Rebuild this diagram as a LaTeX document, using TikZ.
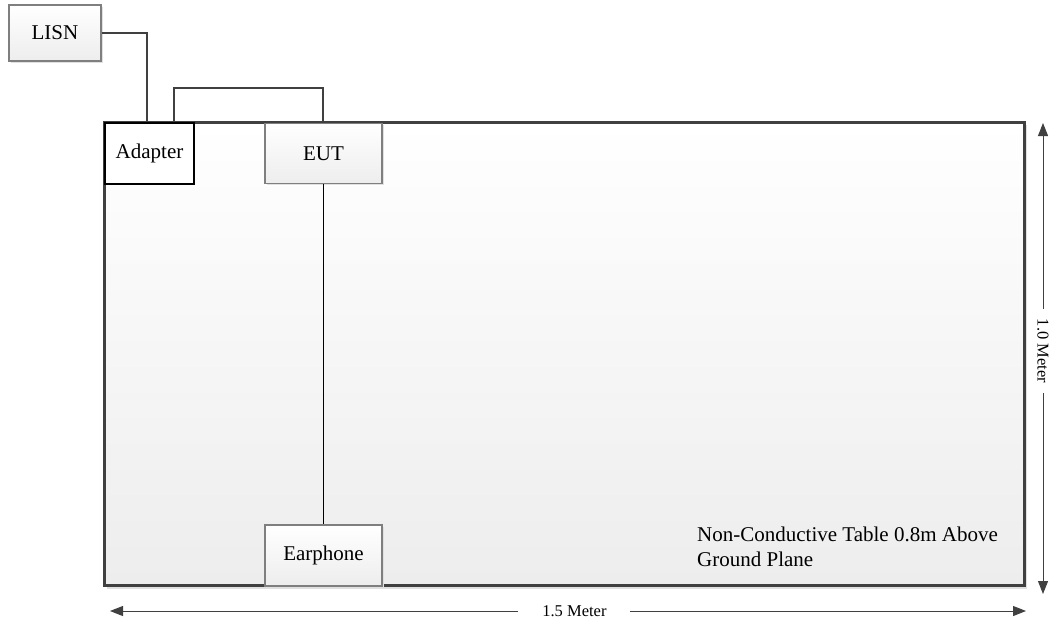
\documentclass[tikz,border=0pt]{standalone}
\usepackage{fontspec}
\setmainfont{Liberation Serif}
\usetikzlibrary{arrows.meta}
\definecolor{edge}{HTML}{404040}
\definecolor{boxedge}{HTML}{7F7F7F}
\definecolor{lowgray}{HTML}{EDEDED}
\tikzset{
  x=1pt, y=-1pt,
  devbox/.style={draw=boxedge, line width=1.2pt, top color=white, bottom color=lowgray, font=\fontsize{21}{25}\selectfont, inner sep=0pt},
  adbox/.style={draw=black, line width=2pt, fill=white, font=\fontsize{21}{25}\selectfont, inner sep=0pt},
  wire/.style={draw=edge, line width=2pt},
  thinwire/.style={draw=black, line width=1pt},
  dim/.style={draw=edge, line width=1pt, {Triangle[length=13pt,width=10pt]}-{Triangle[length=13pt,width=10pt]}},
  dimlabel/.style={fill=white, font=\fontsize{16.5}{19}\selectfont, inner sep=10pt},
  shadowbox/.style={fill=black!12, draw=none}
}
\begin{document}
\begin{tikzpicture}
\useasboundingbox (0,0) rectangle (1057,624);
% table
\fill[shadowbox] (107,125) rectangle (1027,589);
\shade[top color=white, bottom color=lowgray] (104,122) rectangle (1024,585);
\draw[edge, line width=3pt] (104,122) rectangle (1024,585);
% boxes
\fill[shadowbox] (11,7) rectangle (103,63);
\node[devbox, minimum width=92pt, minimum height=56pt] (lisn) at (55,33) {LISN};
\node[adbox, minimum width=89pt, minimum height=61pt] (adapter) at (149.5,153.5) {Adapter};
\fill[shadowbox] (267,125) rectangle (384,185);
\node[devbox, minimum width=117pt, minimum height=60pt] (eut) at (323.5,153.5) {EUT};
\fill[shadowbox] (267,527) rectangle (384,588);
\node[devbox, minimum width=117pt, minimum height=61pt] (ear) at (323.5,555.5) {Earphone};
% wires
\coordinate (lisnend) at (147,122);
\draw[wire] (lisn.east |- 0,33) -| (lisnend);
\coordinate (loopA) at (174,122);
\coordinate (loopB) at (323,122);
\draw[wire] (loopA) -- (174,88) -| (loopB);
\draw[thinwire] (eut.south -| 323,0) -- (ear.north -| 323,0);
% table text
\node[anchor=north west, align=left, font=\fontsize{21}{25}\selectfont, inner sep=0pt] (tablelabel) at (697,527) {Non-Conductive Table 0.8m Above\\Ground Plane};
% dimensions
\coordinate (vtop) at (1043,123);
\coordinate (vbot) at (1043,594);
\draw[dim] (vtop) -- node[dimlabel, rotate=-90, pos=0.484, inner xsep=10pt, inner ysep=2pt] (vlabel) {1.0 Meter} (vbot);
\coordinate (hleft) at (110,611);
\coordinate (hright) at (1026,611);
\draw[dim] (hleft) -- node[dimlabel, pos=0.507, inner xsep=24pt, inner ysep=2pt] (hlabel) {1.5 Meter} (hright);
\end{tikzpicture}
\end{document}
